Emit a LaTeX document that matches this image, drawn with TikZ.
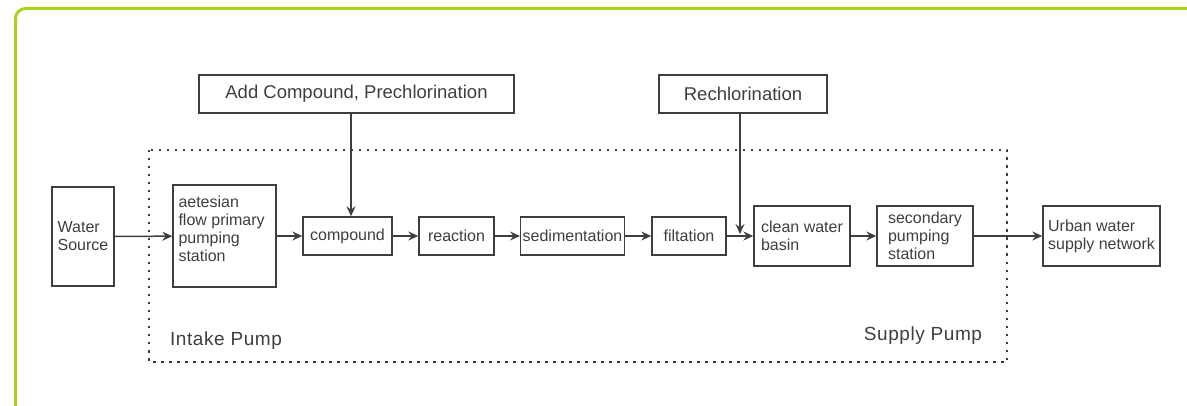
\documentclass[tikz,border=0pt]{standalone}
\usepackage{fontspec}
\setmainfont{Liberation Sans}
\newfontfamily\spacedfont[LetterSpace=3]{Liberation Sans}
\usetikzlibrary{arrows.meta,calc}
\definecolor{framegreen}{HTML}{A8D21E}
\definecolor{inkgrey}{HTML}{3E3E3E}

\begin{document}
\begin{tikzpicture}[x=1pt,y=-1pt,
  box/.style={draw=inkgrey,line width=1.4pt,text=inkgrey,align=left,inner sep=2pt,
    font=\fontsize{16}{18}\selectfont},
  topbox/.style={box,minimum height=38pt,font=\fontsize{18.5}{20}\selectfont},
  flow/.style={draw=inkgrey,line width=1.5pt,-{Stealth[length=10pt,width=9pt,inset=3.5pt]}},
  zone/.style={text=inkgrey,font=\spacedfont\fontsize{19}{21}\selectfont}]
  \useasboundingbox (0,0) rectangle (1187,406);
  \draw[framegreen,line width=3pt,rounded corners=10pt] (15.5,430)--(15.5,8.5)--(1210,8.5);

  \draw[inkgrey,line width=1.6pt,dash pattern=on 2.5pt off 5.5pt] (149,150) rectangle (1007,362);
  \node[zone] (intake) at (226,341) {Intake Pump};
  \node[zone] (supply) at (923,336) {Supply Pump};

  \node[topbox,minimum width=315pt] (addc) at (356.5,94) {Add Compound, Prechlorination};
  \node[topbox,minimum width=168pt] (rech) at (743,94) {Rechlorination};

  \node[box,minimum width=62pt,minimum height=99pt] (ws) at (83,236.5) {Water\\Source};
  \node[box,minimum width=103pt,minimum height=102pt] (apst) at (224.5,236) {};
  \node[text=inkgrey,align=left,anchor=north west,inner xsep=6pt,inner ysep=11pt,
    font=\fontsize{16}{18}\selectfont] (apsttext) at (apst.north west) {aetesian\\flow primary\\pumping\\station};
  \node[box,minimum width=89pt,minimum height=38pt] (cmp) at (347.5,236) {compound};
  \node[box,minimum width=75pt,minimum height=38pt] (rea) at (456.5,236) {reaction};
  \node[box,minimum width=103pt,minimum height=38pt] (sed) at (572.5,236) {sedimentation};
  \node[box,minimum width=74pt,minimum height=38pt] (filt) at (689,236) {filtation};
  \node[box,minimum width=96pt,minimum height=60pt] (cwb) at (802,236) {clean water\\basin};
  \node[box,minimum width=96pt,minimum height=60pt] (sps) at (925,236) {secondary\\pumping\\station};
  \node[box,minimum width=117pt,minimum height=60pt] (urb) at (1101.5,236) {Urban water\\supply network};

  \draw[flow] (ws) -- (apst);
  \draw[flow] (apst) -- (cmp);
  \draw[flow] (cmp) -- (rea);
  \draw[flow] (rea) -- (sed);
  \draw[flow] (sed) -- (filt);
  \draw[flow] (filt) -- (cwb);
  \draw[flow] (cwb) -- (sps);
  \draw[flow] (sps) -- (urb);
  \coordinate (cmpin) at ($(cmp.north)+(3.5,0)$);
  \draw[flow] (addc.south -| cmpin) -- (cmpin);
  \coordinate (rj) at ($(filt.east)!0.5!(cwb.west)+(0,-2)$);
  \draw[flow] (rech.south -| rj) -- (rj);
\end{tikzpicture}
\end{document}
